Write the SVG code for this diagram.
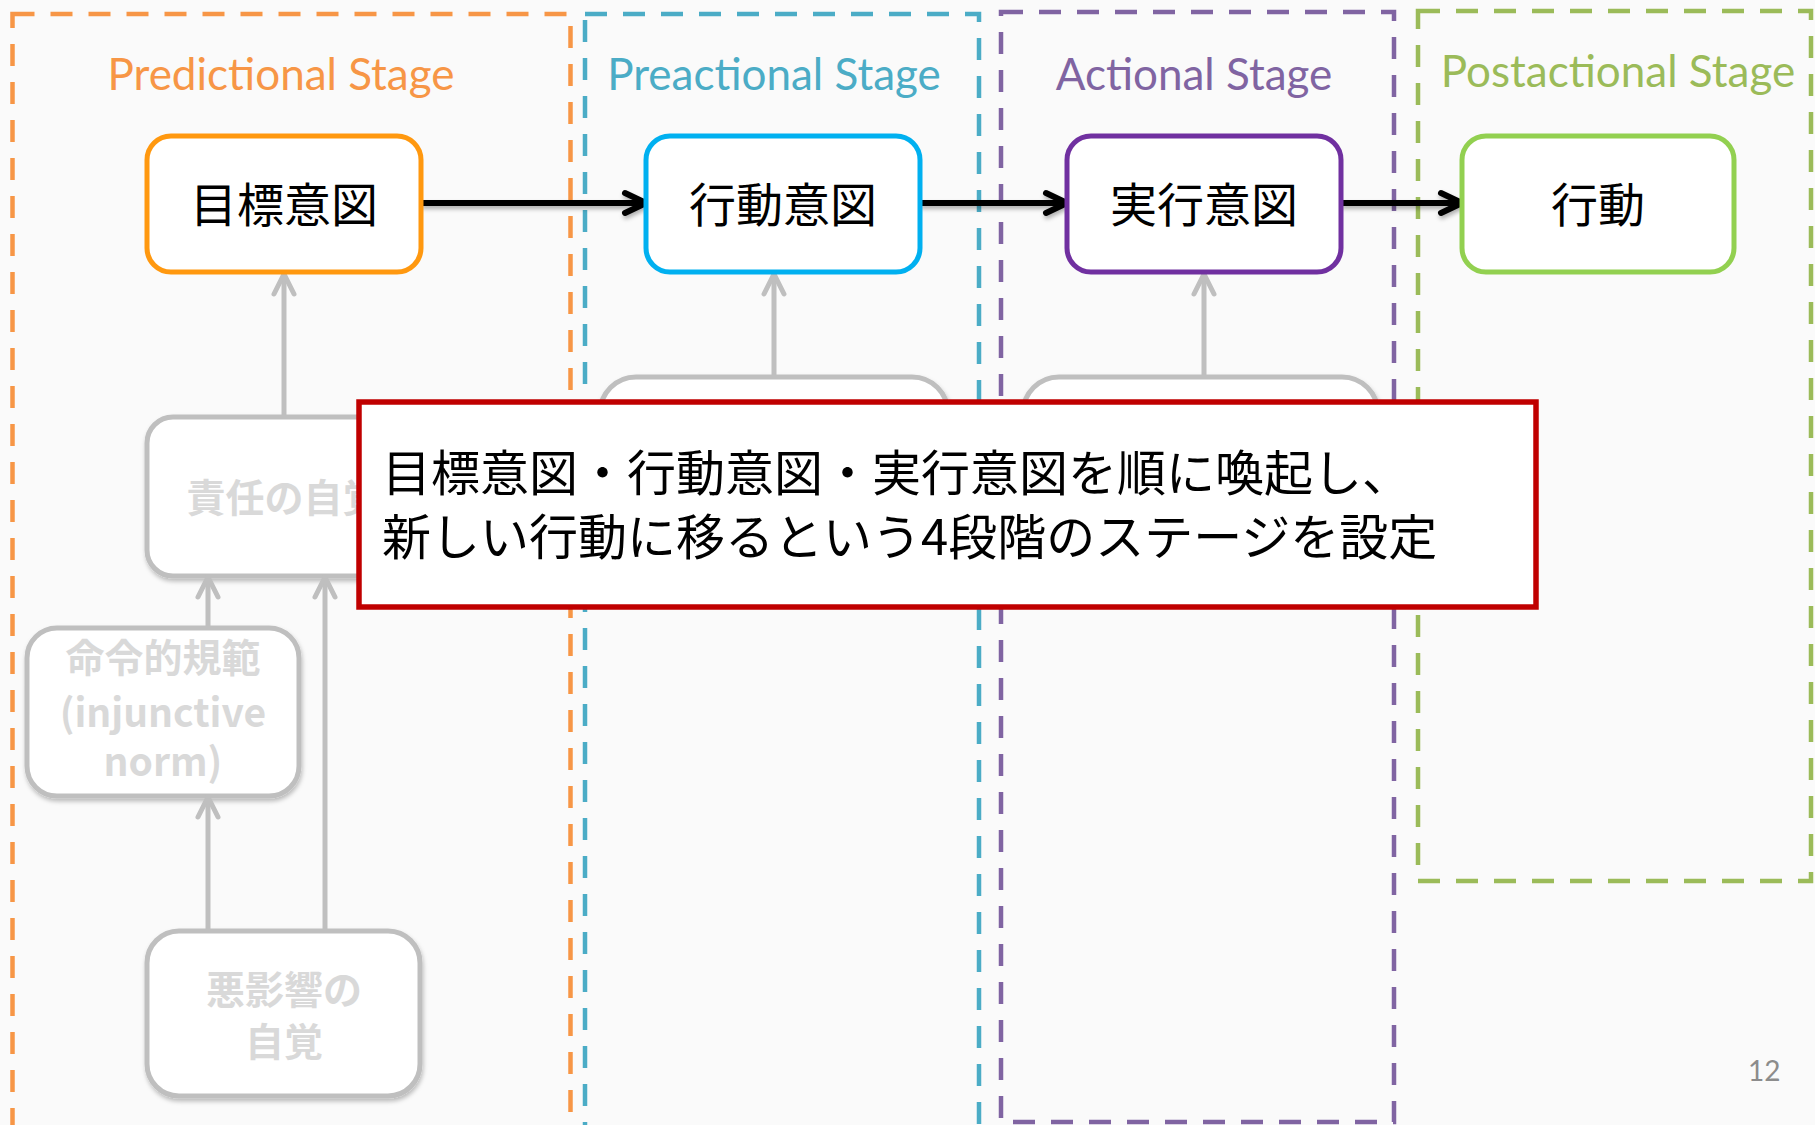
<svg xmlns="http://www.w3.org/2000/svg" width="1815" height="1125" viewBox="0 0 1815 1125">
<defs>
<style>
.stage{fill:none;stroke-width:4.5;stroke-dasharray:22 16}
.title{font-family:Lato,"Open Sans","Liberation Sans",sans-serif;font-size:44px;text-anchor:middle}
.node{fill:#ffffff;stroke-width:5}
.ntxt{font-family:"Noto Sans CJK JP","Noto Sans",sans-serif;font-size:47px;fill:#000000;text-anchor:middle}
.gnode{fill:#ffffff;stroke:#BFBFBF;stroke-width:5}
.gtxt{font-family:"Noto Sans CJK JP","Noto Sans",sans-serif;font-weight:bold;font-size:39px;fill:#D9D9D9;text-anchor:middle}
.blk{stroke:#000000;stroke-width:6;fill:none;marker-end:url(#ab)}
.gry{stroke:#BFBFBF;stroke-width:5;fill:none;marker-end:url(#ag)}
.msg{font-family:"Noto Sans CJK JP","Noto Sans",sans-serif;font-size:49px;fill:#000000}
</style>
<marker id="ab" viewBox="0 0 30 30" refX="25" refY="15" markerWidth="30" markerHeight="30" markerUnits="userSpaceOnUse" orient="auto">
<path d="M4 5 L25 15 L4 25" fill="none" stroke="#000000" stroke-width="6" stroke-linecap="round" stroke-linejoin="round"/>
</marker>
<marker id="ag" viewBox="0 0 30 30" refX="25" refY="15" markerWidth="30" markerHeight="30" markerUnits="userSpaceOnUse" orient="auto">
<path d="M5 5 L25 15 L5 25" fill="none" stroke="#BFBFBF" stroke-width="5" stroke-linecap="round" stroke-linejoin="round"/>
</marker>
<filter id="sh" x="-10%" y="-30%" width="120%" height="160%">
<feDropShadow dx="1" dy="3" stdDeviation="2" flood-color="#000000" flood-opacity="0.25"/>
</filter>
<filter id="shu" filterUnits="userSpaceOnUse" x="0" y="0" width="1815" height="1125">
<feDropShadow dx="1" dy="3" stdDeviation="2" flood-color="#000000" flood-opacity="0.3"/>
</filter>
</defs>
<rect x="0" y="0" width="1815" height="1125" fill="#FAFAFA"/>

<g id="stage-predictional">
<rect class="stage" x="12.5" y="14" width="558" height="1140" stroke="#F79646"/>
<text class="title" x="281" y="90" fill="#F79646">Predictional Stage</text>
</g>
<g id="stage-preactional">
<rect class="stage" x="585" y="14" width="394" height="1140" stroke="#4BACC6"/>
<text class="title" x="774" y="90" fill="#4BACC6">Preactional Stage</text>
</g>
<g id="stage-actional">
<rect class="stage" x="1001" y="12" width="393" height="1110" stroke="#8064A2"/>
<text class="title" x="1194" y="90" fill="#8064A2">Actional Stage</text>
</g>
<g id="stage-postactional">
<rect class="stage" x="1418" y="11" width="393" height="870" stroke="#9BBB59"/>
<text class="title" x="1618" y="87" fill="#9BBB59">Postactional Stage</text>
</g>

<g id="node-sekinin">
<rect class="gnode" x="147" y="417" width="274" height="159" rx="26" filter="url(#sh)"/>
<text class="gtxt" x="284" y="512" font-size="41">責任の自覚</text>
</g>
<g id="node-meirei">
<rect class="gnode" x="27" y="628" width="272" height="168" rx="30" filter="url(#sh)"/>
<text class="gtxt" x="163" y="672" font-size="38">命令的規範</text>
<text class="gtxt" x="163" y="727" font-size="34">(injunctive</text>
<text class="gtxt" x="163" y="776" font-size="34">norm)</text>
</g>
<g id="node-akueikyo">
<rect class="gnode" x="147" y="931" width="273" height="165" rx="32" filter="url(#sh)"/>
<text class="gtxt" x="284" y="1004">悪影響の</text>
<text class="gtxt" x="284" y="1056">自覚</text>
</g>
<g id="node-pre-gray">
<rect class="gnode" x="600" y="377" width="348" height="190" rx="36" filter="url(#sh)"/>
</g>
<g id="node-act-gray">
<rect class="gnode" x="1023" y="377" width="355" height="190" rx="36" filter="url(#sh)"/>
</g>

<g id="connectors">
<line class="gry" x1="284" y1="417" x2="284" y2="274"/>
<line class="gry" x1="774" y1="377" x2="774" y2="274"/>
<line class="gry" x1="1204" y1="377" x2="1204" y2="274"/>
<line class="gry" x1="208" y1="628" x2="208" y2="577"/>
<line class="gry" x1="325" y1="931" x2="325" y2="577"/>
<line class="gry" x1="208" y1="931" x2="208" y2="797"/>
<g filter="url(#shu)">
<line class="blk" x1="421" y1="203" x2="646" y2="203"/>
<line class="blk" x1="920" y1="203" x2="1067" y2="203"/>
<line class="blk" x1="1341" y1="203" x2="1462" y2="203"/>
</g>
</g>

<g id="node-mokuhyo">
<rect class="node" x="147" y="136" width="274" height="136" rx="24" stroke="#FF980F"/>
<text class="ntxt" x="284" y="222">目標意図</text>
</g>
<g id="node-kodoishi">
<rect class="node" x="646" y="136" width="274" height="136" rx="24" stroke="#00B0F0"/>
<text class="ntxt" x="783" y="222">行動意図</text>
</g>
<g id="node-jikko">
<rect class="node" x="1067" y="136" width="274" height="136" rx="24" stroke="#7030A0"/>
<text class="ntxt" x="1204" y="222">実行意図</text>
</g>
<g id="node-kodo">
<rect class="node" x="1462" y="136" width="272" height="136" rx="24" stroke="#92D050"/>
<text class="ntxt" x="1598" y="222">行動</text>
</g>

<g id="callout">
<rect x="359" y="402" width="1177" height="205" fill="#ffffff" stroke="#C00000" stroke-width="5.5"/>
<text class="msg" x="382" y="491">目標意図・行動意図・実行意図を順に喚起し、</text>
<text class="msg" x="382" y="555">新しい行動に移るという4段階のステージを設定</text>
</g>

<text x="1748" y="1081" font-family="Lato,'Liberation Sans',sans-serif" font-size="28" fill="#8C8C8C">12</text>
</svg>
